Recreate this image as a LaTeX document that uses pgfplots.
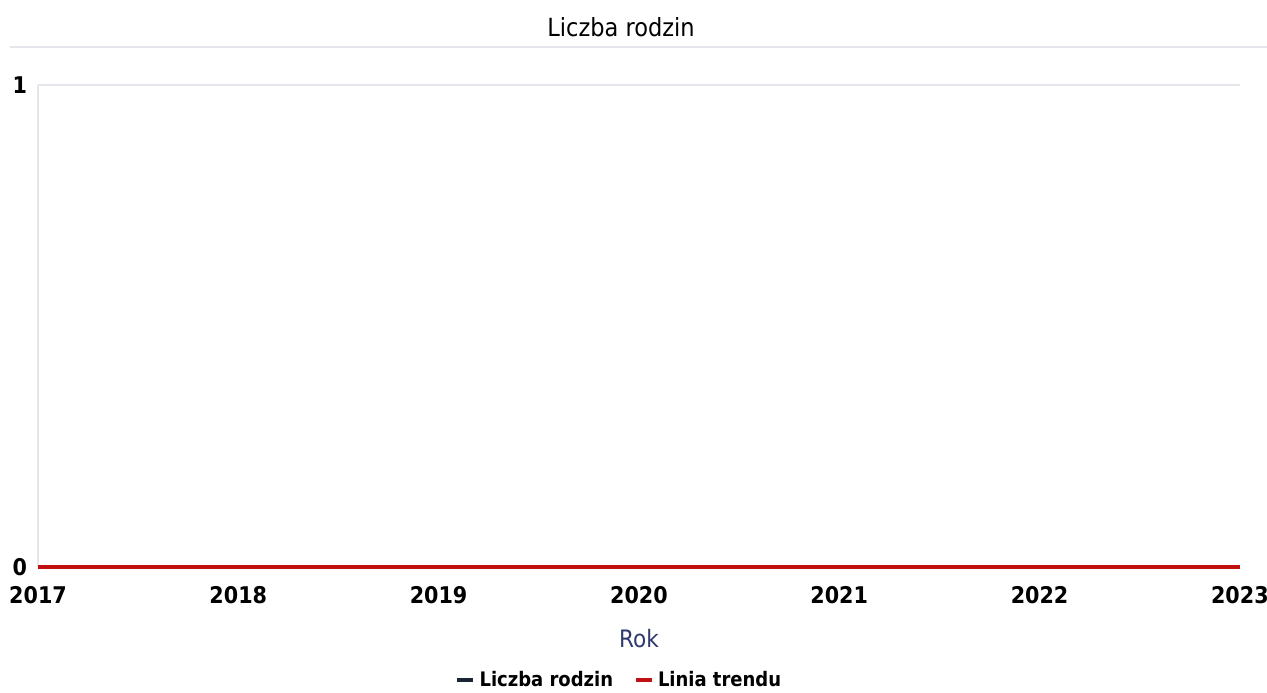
\documentclass[border=0pt]{standalone}
\usepackage{fontspec}
\setmainfont{DejaVu Sans Condensed}
\usepackage{pgfplots}
\pgfplotsset{compat=1.18}
\definecolor{trendred}{HTML}{C01010}
\definecolor{seriesnavy}{HTML}{1C2433}
\definecolor{labelnavy}{HTML}{2E3A6E}
\definecolor{gridgrey}{HTML}{E4E6EC}

\begin{document}
\begin{tikzpicture}
\useasboundingbox (-19pt,-62.5pt) rectangle (614.5pt,283.5pt);
\draw[gridgrey, line width=0.8pt] (-14pt,260pt) -- (614.5pt,260pt);
\begin{axis}[
    scale only axis,
    width=601pt, height=241pt,
    at={(0pt,0pt)}, anchor=south west,
    xmin=2017, xmax=2023,
    ymin=0, ymax=1,
    xtick={2017,...,2023},
    ytick={0,1},
    /pgf/number format/1000 sep={},
    /pgf/number format/assume math mode=true,
    tick label style={font=\fontsize{11.5}{13}\selectfont\bfseries, text=black},
    xticklabel style={yshift=-6pt},
    yticklabel style={xshift=-2pt},
    major tick length=0pt,
    axis line style={draw=none},
    ymajorgrids,
    grid style={gridgrey, line width=0.8pt},
    title={Liczba rodzin},
    title style={font=\fontsize{12.5}{14}\selectfont, at={(0.5,1)}, xshift=-9pt, yshift=14.5pt},
    xlabel={Rok},
    xlabel style={font=\fontsize{12}{14}\selectfont, text=labelnavy, yshift=-6pt},
    legend style={at={(291pt,-56.5pt)}, anchor=center, draw=none,
        font=\fontsize{10}{12}\selectfont\bfseries, legend columns=2,
        /tikz/every even column/.append style={column sep=8pt}},
    legend image code/.code={\draw[#1, line width=2.4pt] (0pt,0pt) -- (8pt,0pt);},
    clip=false,
]
\draw[gridgrey, line width=0.8pt] (axis cs:2017,0) -- (axis cs:2017,1);
\addplot[seriesnavy, line width=2.2pt] coordinates {
    (2017,0) (2018,0) (2019,0) (2020,0) (2021,0) (2022,0) (2023,0)
};
\addlegendentry{Liczba rodzin}
\addplot[trendred, line width=2.2pt] coordinates {
    (2017,0) (2023,0)
};
\addlegendentry{Linia trendu}
\end{axis}
\end{tikzpicture}
\end{document}
